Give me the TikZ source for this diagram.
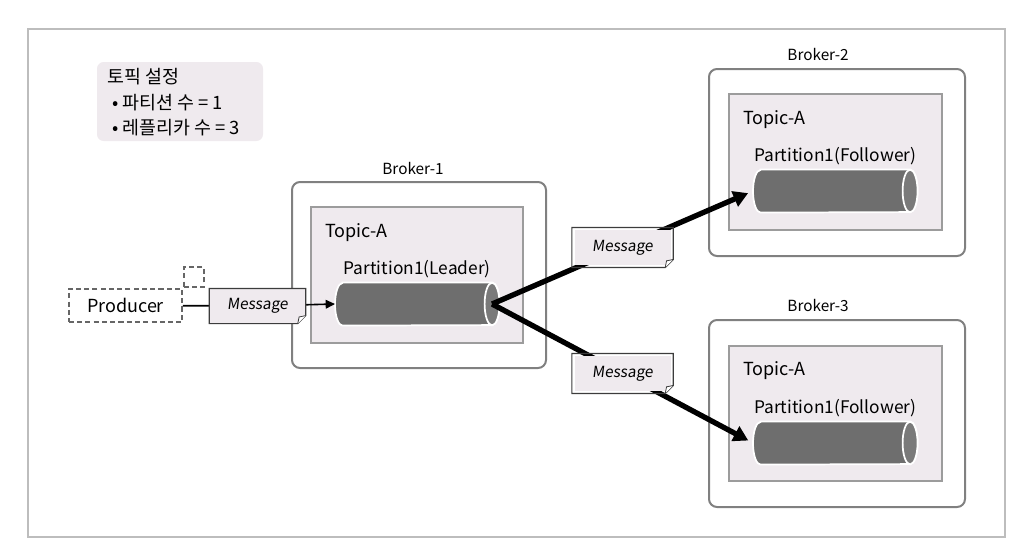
\documentclass[tikz,border=0pt]{standalone}
\usepackage{fontspec}
\setmainfont{Noto Sans CJK KR}
\newfontfamily\msgfont[FakeSlant=0.12]{Noto Sans CJK KR}
\usepackage{tikz}
\usetikzlibrary{arrows.meta, positioning}

\definecolor{boxfill}{HTML}{EFEAEE}
\definecolor{cylfill}{HTML}{6E6E6E}
\definecolor{cylend}{HTML}{7A7A7A}
\definecolor{framegray}{HTML}{BDBDBD}
\definecolor{brokergray}{HTML}{808080}
\definecolor{topicgray}{HTML}{9C9C9C}
\definecolor{dashgray}{HTML}{666666}
\definecolor{msgdark}{HTML}{3C3C3C}

\begin{document}
\begin{tikzpicture}[x=0.75pt, y=-0.75pt,
    frame/.style={draw=framegray, line width=0.8pt},
    broker/.style={draw=brokergray, line width=1.5pt, rounded corners=6pt},
    topic/.style={draw=topicgray, line width=1pt, fill=boxfill},
    part/.style={minimum width=123pt, minimum height=32pt, inner sep=0pt, anchor=west},
    ktext/.style={font=\fontsize{13.8}{16}\selectfont, inner sep=0pt},
    big/.style={font=\fontsize{13.5}{16}\selectfont, inner sep=0pt},
    pname/.style={font=\fontsize{13}{15}\selectfont, inner sep=0pt},
    small/.style={font=\fontsize{11.5}{14}\selectfont, inner sep=0pt},
    msg/.style={fill=boxfill, minimum width=72pt, minimum height=26pt, inner sep=0pt, font=\msgfont\fontsize{11.5}{14}\selectfont},
    msgline/.style={draw=msgdark, line width=0.9pt},
    send/.style={line width=4pt, -{Triangle[length=11pt,width=12pt]}, shorten >=4pt},
    dashbox/.style={draw=dashgray, line width=1.2pt, dash pattern=on 3.8pt off 2.4pt}
]
\useasboundingbox (0,0) rectangle (1019,551);
\draw[frame] (28,29) rectangle (1005,537);

% topic settings
\fill[boxfill, rounded corners=5pt] (97,62) rectangle (263,141);
\node[ktext, anchor=west] (set-title) at (107,77) {토픽 설정};
\node[ktext, anchor=west] (set-part) at (112,103) {• 파티션 수 = 1};
\node[ktext, anchor=west] (set-repl) at (112,128) {• 레플리카 수 = 3};

% brokers
\draw[broker] (292,182) rectangle (546,368);
\draw[topic] (311,207) rectangle (523,343);
\node[small] (b1-name) at (413,168) {Broker-1};
\node[big, anchor=west] (b1-topic) at (325,233) {Topic-A};
\node[part] (part-1) at (335,304) {};
\node[pname, above=3pt of part-1] (part-1-name) {Partition1(Leader)};

\draw[broker] (709,69) rectangle (965,256);
\draw[topic] (729,94) rectangle (942,230);
\node[small] (b2-name) at (818,54) {Broker-2};
\node[big, anchor=west] (b2-topic) at (743,120) {Topic-A};
\node[part] (part-2) at (753,191) {};
\node[pname, above=3pt of part-2] (part-2-name) {Partition1(Follower)};

\draw[broker] (709,320) rectangle (965,507);
\draw[topic] (729,346) rectangle (942,481);
\node[small] (b3-name) at (818,305) {Broker-3};
\node[big, anchor=west] (b3-topic) at (743,371) {Topic-A};
\node[part] (part-3) at (753,443) {};
\node[pname, above=3pt of part-3] (part-3-name) {Partition1(Follower)};

% cylinders
\begin{scope}[x=1pt, y=1pt]
\foreach \p in {part-1, part-2, part-3} {
  \draw[white, line width=1.3pt, fill=cylfill]
    ([xshift=5.6pt]\p.north west) -- ([xshift=-5.6pt]\p.north east)
    arc[start angle=90, end angle=-90, x radius=5.6, y radius=16]
    -- ([xshift=5.6pt]\p.south west)
    arc[start angle=270, end angle=90, x radius=5.6, y radius=16] -- cycle;
  \draw[white, line width=1.3pt, fill=cylend] ([xshift=-5.6pt]\p.east) ellipse[x radius=5.6, y radius=16];
}
\end{scope}

% producer
\node[dashbox, big, minimum width=85pt, minimum height=25pt] (prod) at (125.5,305.5) {Producer};
\node[dashbox, minimum size=15pt, inner sep=0pt, anchor=south west] (prod-tab) at (prod.north east) {};
\node[msg] (msg-p) at (257.5,306) {Message};
\draw[line width=1.3pt] (prod) -- (msg-p);
\draw[line width=1.2pt, -{Triangle[length=7pt,width=6.5pt]}] (msg-p) -- (part-1.west);

% replication
\draw[send] ([xshift=-5.6pt]part-1.east) -- node[msg] (msg-2) {Message} (part-2.west);
\draw[send] ([xshift=-5.6pt]part-1.east) -- node[msg] (msg-3) {Message} (part-3.west);

\foreach \m in {msg-p, msg-2, msg-3} {
  \fill[white] ([yshift=6pt]\m.south east) -- (\m.south east) -- ([xshift=-6pt]\m.south east) -- cycle;
  \draw[msgline] (\m.south west) -- (\m.north west) -- (\m.north east) -- ([yshift=6pt]\m.south east) -- ([xshift=-6pt]\m.south east) -- cycle;
  \draw[msgline, fill=white, line width=0.6pt] ([yshift=6pt]\m.south east) -- ([xshift=-5pt, yshift=5pt]\m.south east) -- ([xshift=-6pt]\m.south east);
}
\end{tikzpicture}
\end{document}
